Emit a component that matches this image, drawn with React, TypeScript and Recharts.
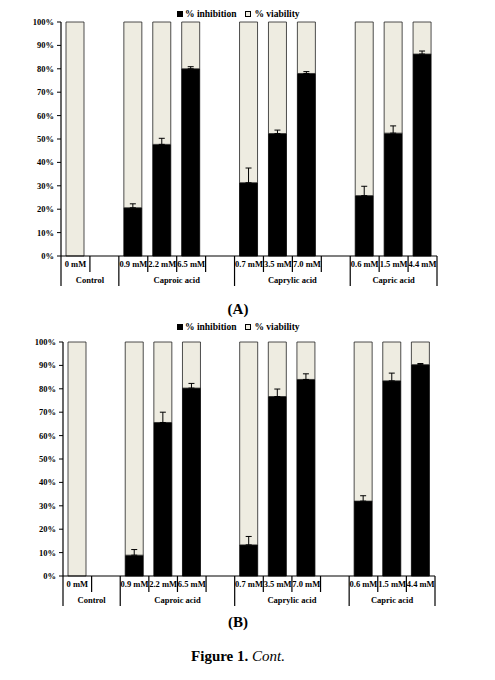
import React from 'react'
import { BarChart, Bar, XAxis, YAxis, ErrorBar } from 'recharts'

const doseLabels = ['0 mM', '', '0.9 mM', '2.2 mM', '6.5 mM', '', '0.7 mM', '3.5 mM', '7.0 mM', '', '0.6 mM', '1.5 mM', '4.4 mM']

const groups = [
  { label: 'Control', start: 0, span: 2 },
  { label: 'Caproic acid', start: 2, span: 4 },
  { label: 'Caprylic acid', start: 6, span: 4 },
  { label: 'Capric acid', start: 10, span: 3 },
]

// % inhibition (mean) and upward SD, panel A
const inhibitionA = [0, null, 20.6, 47.7, 80.0, null, 31.3, 52.3, 78.0, null, 25.8, 52.5, 86.3]
const errorA = [null, null, 1.7, 2.6, 0.9, null, 6.3, 1.5, 0.8, null, 4.0, 3.1, 1.3]

// panel B
const inhibitionB = [0, null, 8.9, 65.6, 80.3, null, 13.3, 76.7, 84.0, null, 32.0, 83.4, 90.3]
const errorB = [null, null, 2.4, 4.4, 2.0, null, 3.6, 3.2, 2.4, null, 2.3, 3.3, 0.5]

const yTicks = [0, 10, 20, 30, 40, 50, 60, 70, 80, 90, 100]

const FONT = '"Liberation Serif", "Times New Roman", serif'
const VIABILITY = '#EEECE1'

function buildRows(inhibition: (number | null)[], errors: (number | null)[]) {
  return doseLabels.map((dose, i) => {
    const inh = inhibition[i]
    const e = errors[i]
    return {
      dose,
      inhibition: inh,
      viability: inh == null ? null : 100 - inh,
      err: e == null ? null : [0, e],
    }
  })
}

function makeTick(slotW: number) {
  return function DoseTick(props: any) {
    const { x, y, index } = props
    const group = groups.find((g) => g.start === index)
    const isGroupEnd = groups.some((g) => g.start + g.span - 1 === index)
    const right = x + slotW / 2
    const left = x - slotW / 2
    return (
      <g>
        <text
          x={x}
          y={y + 11}
          textAnchor="middle"
          fontFamily={FONT}
          fontWeight="bold"
          fontSize={8.5}
          fill="#000"
        >
          {doseLabels[index]}
        </text>
        <line x1={right} y1={y} x2={right} y2={y + (isGroupEnd ? 30 : 16)} stroke="#000" strokeWidth={1.2} />
        {group && (
          <>
            {index === 0 && <line x1={left} y1={y} x2={left} y2={y + 30} stroke="#000" strokeWidth={1.2} />}
            <text
              x={x + ((group.span - 1) * slotW) / 2}
              y={y + 27}
              textAnchor="middle"
              fontFamily={FONT}
              fontWeight="bold"
              fontSize={8.5}
              fill="#000"
            >
              {group.label}
            </text>
          </>
        )}
      </g>
    )
  }
}

function PercentTick(props: any) {
  const { x, y, payload } = props
  return (
    <text x={x} y={y + 3} textAnchor="end" fontFamily={FONT} fontWeight="bold" fontSize={8.5} fill="#000" stroke="none">
      {`${payload.value}%`}
    </text>
  )
}

function Panel({
  inhibition,
  errors,
  left,
  right,
}: {
  inhibition: (number | null)[]
  errors: (number | null)[]
  left: number
  right: number
}) {
  const data = buildRows(inhibition, errors)
  const width = 495
  const slotW = (right - left) / doseLabels.length
  return (
    <BarChart
      width={width}
      height={290}
      data={data}
      margin={{ top: 22, right: width - right, bottom: 0, left: left - 50 }}
    >
      <XAxis
        dataKey="dose"
        interval={0}
        height={34}
        tickLine={false}
        tickSize={0}
        tickMargin={0}
        axisLine={{ stroke: '#000', strokeWidth: 1.2 }}
        tick={makeTick(slotW)}
      />
      <YAxis
        width={50}
        domain={[0, 100]}
        ticks={yTicks}
        interval={0}
        tickSize={4}
        tickMargin={3}
        axisLine={{ stroke: '#000', strokeWidth: 1.2 }}
        tickLine={{ stroke: '#000', strokeWidth: 1 }}
        tick={<PercentTick />}
      />
      <Bar dataKey="inhibition" stackId="s" fill="#000" stroke="#000" strokeWidth={0.8} barSize={18} isAnimationActive={false}>
        <ErrorBar dataKey="err" width={3} stroke="#000" strokeWidth={1} isAnimationActive={false} />
      </Bar>
      <Bar dataKey="viability" stackId="s" fill={VIABILITY} stroke="#222" strokeWidth={0.8} barSize={18} isAnimationActive={false} />
    </BarChart>
  )
}

function LegendRow({ top }: { top: number }) {
  const item = { display: 'flex', alignItems: 'center', marginRight: 9 }
  const text = { fontFamily: FONT, fontWeight: 'bold' as const, fontSize: 9.5, color: '#000' }
  return (
    <div style={{ position: 'absolute', top, left: 177, display: 'flex', alignItems: 'center', height: 12 }}>
      <div style={item}>
        <span style={{ width: 6, height: 6, background: '#000', marginRight: 2 }} />
        <span style={text}>% inhibition</span>
      </div>
      <div style={item}>
        <span style={{ width: 4, height: 4, background: VIABILITY, border: '1px solid #000', marginRight: 3 }} />
        <span style={text}>% viability</span>
      </div>
    </div>
  )
}

const caption = { position: 'absolute' as const, left: 0, width: 476, textAlign: 'center' as const, fontFamily: FONT, fontSize: 15, color: '#000' }

export default function App() {
  return (
    <div style={{ position: 'absolute', left: 0, top: 0, width: 495, height: 680, background: '#fff' }}>
      <LegendRow top={8} />
      <div style={{ position: 'absolute', left: 0, top: 0 }}>
        <Panel inhibition={inhibitionA} errors={errorA} left={61} right={437} />
      </div>
      <div style={{ ...caption, top: 301, fontWeight: 'bold' }}>(A)</div>

      <LegendRow top={321} />
      <div style={{ position: 'absolute', left: 0, top: 320 }}>
        <Panel inhibition={inhibitionB} errors={errorB} left={63} right={435} />
      </div>
      <div style={{ ...caption, top: 614, fontWeight: 'bold' }}>(B)</div>

      <div style={{ ...caption, top: 648 }}>
        <b>Figure 1.</b> <i>Cont.</i>
      </div>
    </div>
  )
}
